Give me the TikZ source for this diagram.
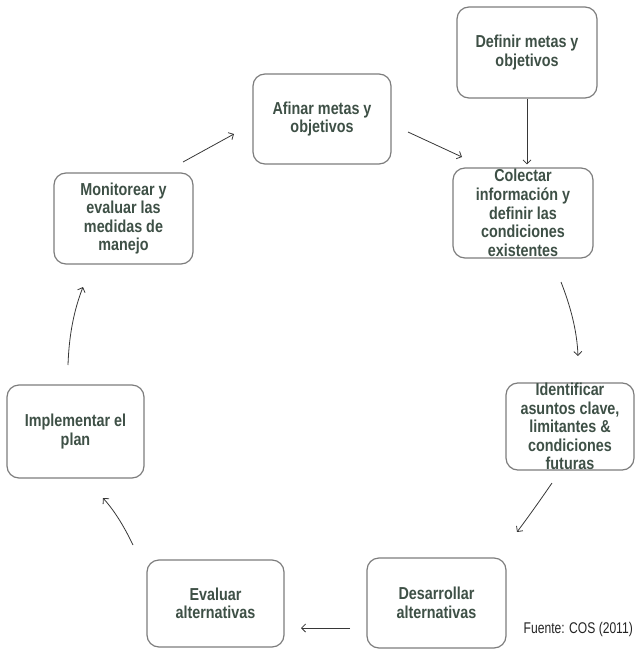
\documentclass[tikz,border=0pt]{standalone}
\usepackage{fontspec}
\setmainfont{Liberation Sans}
\newfontfamily\boxfont{Liberation Sans}[FakeStretch=0.83]
\newfontfamily\srcfont{Liberation Sans}[FakeStretch=0.78]
\usetikzlibrary{arrows.meta}
\definecolor{txt}{RGB}{62,80,70}
\definecolor{brd}{RGB}{125,125,125}
\definecolor{arr}{RGB}{55,55,55}
\tikzset{
  stage/.style={draw=brd, line width=1.2pt, rounded corners=12pt, fill=white,
    align=center, text=txt, inner sep=0pt,
    font=\boxfont\bfseries\fontsize{17.3}{18.6}\selectfont},
  flow/.style={draw=arr, line width=0.8pt, -{Straight Barb[length=4pt,width=8pt]}},
}
\begin{document}
\begin{tikzpicture}[x=1pt,y=-1pt]
\useasboundingbox (0,0) rectangle (636,653);
\node[stage, minimum width=140pt, minimum height=91pt] (def) at (527,52.5) {Definir metas y\\objetivos};
\node[stage, minimum width=140pt, minimum height=90pt] (col) at (523,213) {Colectar\\información y\\definir las\\condiciones\\existentes};
\node[stage, minimum width=128pt, minimum height=87pt] (ide) at (570,426.5) {Identificar\\asuntos clave,\\limitantes \&\\condiciones\\futuras};
\node[stage, minimum width=139pt, minimum height=90pt] (des) at (436.5,603) {Desarrollar\\alternativas};
\node[stage, minimum width=137pt, minimum height=87pt] (eva) at (215.5,603.5) {Evaluar\\alternativas};
\node[stage, minimum width=137pt, minimum height=93pt] (imp) at (75.5,431.5) {Implementar el\\plan};
\node[stage, minimum width=139pt, minimum height=91pt] (mon) at (123.5,218.5) {Monitorear y\\evaluar las\\medidas de\\manejo};
\node[stage, minimum width=138pt, minimum height=90pt] (afi) at (322,119) {Afinar metas y\\objetivos};
\node[anchor=east, font=\srcfont\fontsize{15.5}{17}\selectfont, text={rgb,255:red,35;green,35;blue,35}, inner sep=0pt] (src) at (633,629) {Fuente: COS (2011)};
% connector end points
\coordinate (a2s) at (561,282); \coordinate (a2e) at (578,356);
\coordinate (a3s) at (552,483); \coordinate (a3e) at (517,532);
\coordinate (a4s) at (350,628); \coordinate (a4e) at (301,628);
\coordinate (a5s) at (133,545); \coordinate (a5e) at (103,498);
\coordinate (a6s) at (68,365);  \coordinate (a6e) at (83,287);
\coordinate (a7s) at (183,162); \coordinate (a7e) at (234,134);
\coordinate (a8s) at (408,132); \coordinate (a8e) at (462,157);
\draw[flow, shorten >=3pt] (def.south) -- (def.south |- col.north);
\draw[flow] (a2s) .. controls (570,305) and (577,330) .. (a2e);
\draw[flow] (a3s) .. controls (541,499) and (529,516) .. (a3e);
\draw[flow] (a4s) -- (a4e);
\draw[flow] (a5s) .. controls (122,522) and (112,508) .. (a5e);
\draw[flow] (a6s) .. controls (69,335) and (74,310) .. (a6e);
\draw[flow] (a7s) -- (a7e);
\draw[flow] (a8s) -- (a8e);
\end{tikzpicture}
\end{document}
